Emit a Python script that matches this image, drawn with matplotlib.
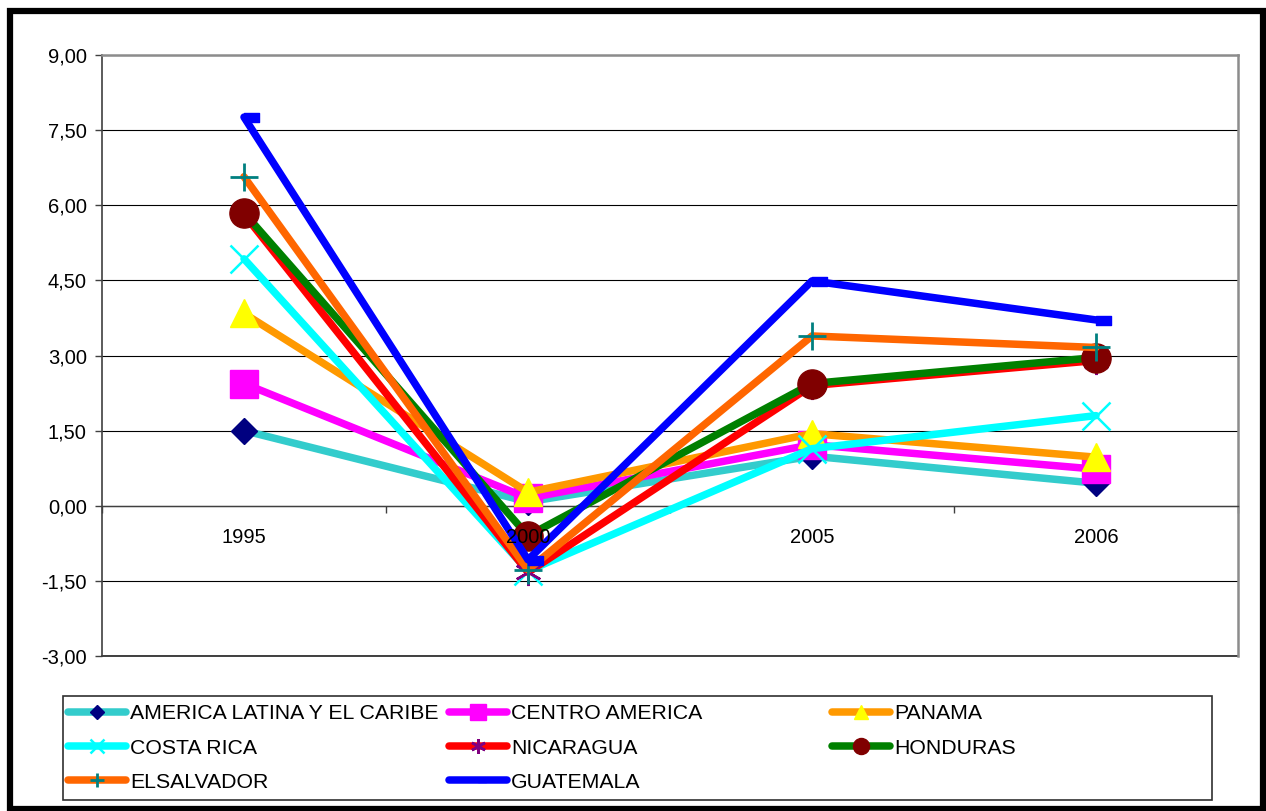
import matplotlib
matplotlib.use("Agg")
import matplotlib.pyplot as plt
from matplotlib.path import Path
from matplotlib.patches import Rectangle
import numpy as np

plt.rcParams['font.family'] = ['Liberation Sans', 'DejaVu Sans']

years = ['1995', '2000', '2005', '2006']

america_latina = [1.50, 0.08, 0.99, 0.45]
centro_america = [2.44, 0.15, 1.22, 0.73]
panama = [3.84, 0.27, 1.44, 0.97]
costa_rica = [4.93, -1.30, 1.14, 1.80]
nicaragua = [5.82, -1.33, 2.40, 2.90]
honduras = [5.85, -0.60, 2.44, 2.96]
el_salvador = [6.57, -1.28, 3.39, 3.16]
guatemala = [7.76, -1.08, 4.49, 3.71]

# Excel "dash" marker, sits to the right of the point
dash = Path([(0, -0.6), (2, -0.6), (2, 0.6), (0, 0.6), (0, -0.6)],
            [Path.MOVETO, Path.LINETO, Path.LINETO, Path.LINETO, Path.CLOSEPOLY])

# name, values, line colour, marker, marker colour, marker size, edge width
series = [
  ('AMERICA LATINA Y EL CARIBE', america_latina, '#33CCCC', 'D', '#000080', 13.5, 1),
  ('CENTRO AMERICA', centro_america, '#FF00FF', 's', '#FF00FF', 20, 1),
  ('PANAMA', panama, '#FF9900', '^', '#FFFF00', 19.5, 1),
  ('COSTA RICA', costa_rica, '#00FFFF', 'x', '#00FFFF', 19.5, 1.8),
  ('NICARAGUA', nicaragua, '#FF0000', (6, 2, 0), '#800080', 19.5, 1.8),
  ('HONDURAS', honduras, '#008000', 'o', '#800000', 21, 1),
  ('ELSALVADOR', el_salvador, '#FF6600', '+', '#008080', 19.5, 2),
  ('GUATEMALA', guatemala, '#0000FF', dash, '#0000FF', 21.6, 1),
]

W, H = 1266, 811
fig = plt.figure(figsize=(W / 100, H / 100), dpi=100)
ax = fig.add_axes([102 / W, 1 - 656 / H, (1238 - 102) / W, (656 - 55) / H])

x = np.arange(len(years)) + 0.5
handles = {}
for i, (name, vals, lc, mk, mc, ms, mew) in enumerate(series):
  ln, = ax.plot(x, vals, color=lc, lw=5.4, marker=mk, markersize=ms,
                markerfacecolor=mc, markeredgecolor=mc, markeredgewidth=mew,
                solid_capstyle='round', solid_joinstyle='round',
                zorder=3 + i, label=name)
  handles[name] = ln

ax.set_xlim(0, 4)
ax.set_ylim(-3, 9)
yt = np.arange(-3, 9.01, 1.5)
ax.set_yticks(yt)
ax.set_yticklabels([('%.2f' % v).replace('.', ',') for v in yt], fontsize=14.5)
ax.tick_params(axis='y', direction='out', length=5, width=1, color='#404040', pad=6)
ax.grid(axis='y', color='black', lw=0.8, zorder=1)
ax.set_axisbelow(True)
ax.axhline(-3, color='#202020', lw=1.2, clip_on=False, zorder=1)

ax.spines['bottom'].set_position(('data', 0))
ax.spines['bottom'].set_color('#404040')
ax.spines['bottom'].set_linewidth(1)
ax.spines['left'].set_color('#404040')
ax.spines['left'].set_linewidth(1.2)
for s in ['top', 'right']:
  ax.spines[s].set_color('#8C8C8C')
  ax.spines[s].set_linewidth(1.8)

ax.set_xticks([])
ax.set_xticks(np.arange(0, 5), minor=True)
ax.tick_params(axis='x', which='minor', direction='out', length=5, width=1,
               color='#404040', labelbottom=False)
for xi, yr in zip(x, years):
  ax.text(xi, -0.63, yr, ha='center', va='center', fontsize=14.5, zorder=30)

# legend, three columns laid out like the original
order = [['AMERICA LATINA Y EL CARIBE', 'COSTA RICA', 'ELSALVADOR'],
         ['CENTRO AMERICA', 'NICARAGUA', 'GUATEMALA'],
         ['PANAMA', 'HONDURAS']]
col_x = [64, 445, 828]
for cx, names in zip(col_x, order):
  fig.legend([handles[n] for n in names], names, loc='upper left',
             bbox_to_anchor=(cx / W, 1 - 700 / H), frameon=False,
             fontsize=15.3, handlelength=2.7, handletextpad=0.2,
             labelspacing=0.72, markerscale=0.55, borderpad=0.2,
             borderaxespad=0)

fig.patches.append(Rectangle((63 / W, 1 - 800 / H), (1212 - 63) / W, (800 - 696) / H,
                             transform=fig.transFigure, fill=False,
                             edgecolor='#303030', lw=1.2))
# outer black frame
fig.patches.append(Rectangle((10 / W, 1 - 809 / H), (1263 - 10) / W, (809 - 10.5) / H,
                             transform=fig.transFigure, fill=False,
                             edgecolor='black', lw=4.5))

fig.savefig('out.png', dpi=100)
